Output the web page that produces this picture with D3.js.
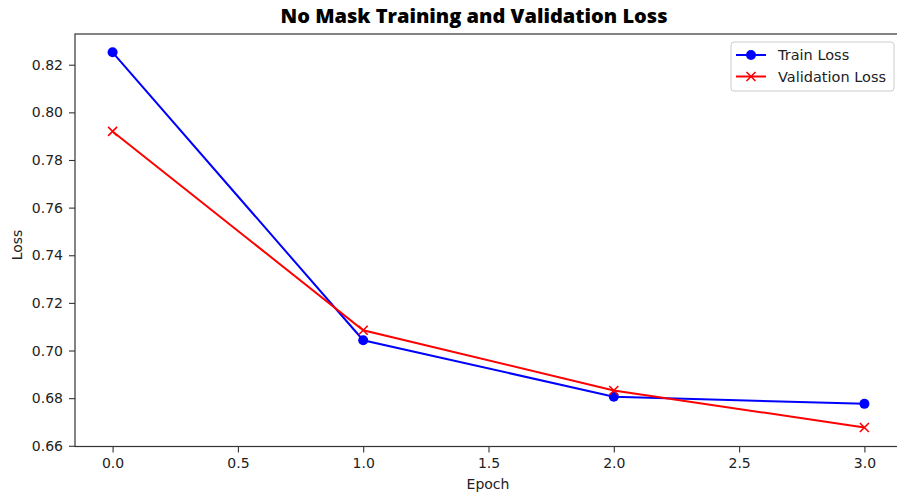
<!DOCTYPE html>
<html>
<head>
<meta charset="utf-8">
<script src="https://cdn.jsdelivr.net/npm/d3@7"></script>
<style>
  html, body { margin: 0; padding: 0; background: #fff; }
  svg { display: block; }
  .tick text { font-family: "DejaVu Sans", sans-serif; font-size: 14px; fill: #222; }
</style>
</head>
<body>
<svg id="chart" width="897" height="494"></svg>
<script>
// Loss per epoch
const epochs = [0, 1, 2, 3];
const trainLoss = [0.8252, 0.7043, 0.6806, 0.6776];
const valLoss = [0.7920, 0.7085, 0.6832, 0.6677];
const xTicks = [0.0, 0.5, 1.0, 1.5, 2.0, 2.5, 3.0];
const yTicks = [0.66, 0.68, 0.70, 0.72, 0.74, 0.76, 0.78, 0.80, 0.82];

const svg = d3.select("#chart");
const plot = { left: 75, right: 902, top: 34, bottom: 446.5 };

const x = d3.scaleLinear().domain([-0.15, 3.15]).range([plot.left, plot.right]);
const y = d3.scaleLinear().domain([0.6597, 0.8329]).range([plot.bottom, plot.top]);

// Frame
svg.append("rect")
  .attr("x", plot.left).attr("y", plot.top)
  .attr("width", plot.right - plot.left).attr("height", plot.bottom - plot.top)
  .attr("fill", "none").attr("stroke", "#333").attr("stroke-width", 1.2);

// Axes
const xAxis = svg.append("g")
  .attr("transform", `translate(0,${plot.bottom})`)
  .call(d3.axisBottom(x).tickValues(xTicks).tickFormat(d3.format(".1f")).tickSizeOuter(0).tickSize(6).tickPadding(6));
const yAxis = svg.append("g")
  .attr("transform", `translate(${plot.left},0)`)
  .call(d3.axisLeft(y).tickValues(yTicks).tickFormat(d3.format(".2f")).tickSizeOuter(0).tickSize(6).tickPadding(6));
[xAxis, yAxis].forEach(g => {
  g.select(".domain").remove();
  g.selectAll(".tick line").attr("stroke", "#333").attr("stroke-width", 1.1);
});

// Lines
const line = d3.line().x((d, i) => x(epochs[i])).y(d => y(d));
svg.append("path").datum(trainLoss)
  .attr("d", line).attr("fill", "none").attr("stroke", "#0000ff").attr("stroke-width", 2);
svg.append("path").datum(valLoss)
  .attr("d", line).attr("fill", "none").attr("stroke", "#ff0000").attr("stroke-width", 2);

// Markers
svg.selectAll(".train-pt").data(trainLoss).join("circle")
  .attr("class", "train-pt")
  .attr("cx", (d, i) => x(epochs[i])).attr("cy", d => y(d))
  .attr("r", 5).attr("fill", "#0000ff");

const crossPath = s => `M${-s},${-s}L${s},${s}M${-s},${s}L${s},${-s}`;
svg.selectAll(".val-pt").data(valLoss).join("path")
  .attr("class", "val-pt")
  .attr("transform", (d, i) => `translate(${x(epochs[i])},${y(d)})`)
  .attr("d", crossPath(4.5))
  .attr("stroke", "#ff0000").attr("stroke-width", 1.6).attr("fill", "none");

// Title and axis labels
svg.append("text")
  .attr("x", 474).attr("y", 23)
  .attr("text-anchor", "middle")
  .attr("font-family", "'Open Sans', sans-serif")
  .attr("font-weight", 800).attr("font-size", 20).attr("fill", "#000")
  .attr("textLength", 387).attr("lengthAdjust", "spacingAndGlyphs")
  .text("No Mask Training and Validation Loss");

svg.append("text")
  .attr("x", 488).attr("y", 489)
  .attr("text-anchor", "middle")
  .attr("font-family", "DejaVu Sans, sans-serif").attr("font-size", 14).attr("fill", "#222")
  .text("Epoch");

svg.append("text")
  .attr("transform", "translate(22,245) rotate(-90)")
  .attr("text-anchor", "middle")
  .attr("font-family", "DejaVu Sans, sans-serif").attr("font-size", 14).attr("fill", "#222")
  .text("Loss");

// Legend
const legend = svg.append("g").attr("transform", "translate(731,42)");
legend.append("rect")
  .attr("width", 163).attr("height", 49).attr("rx", 3)
  .attr("fill", "#fff").attr("fill-opacity", 0.8)
  .attr("stroke", "#ccc").attr("stroke-width", 1);
const items = [
  { name: "Train Loss", color: "#0000ff", marker: "circle" },
  { name: "Validation Loss", color: "#ff0000", marker: "cross" }
];
items.forEach((it, i) => {
  const g = legend.append("g").attr("transform", `translate(0,${13 + i * 21.5})`);
  g.append("line").attr("x1", 5).attr("x2", 35).attr("stroke", it.color).attr("stroke-width", 2);
  if (it.marker === "circle") {
    g.append("circle").attr("cx", 20).attr("r", 5).attr("fill", it.color);
  } else {
    g.append("path").attr("transform", "translate(20,0)").attr("d", crossPath(4.5))
      .attr("stroke", it.color).attr("stroke-width", 1.6).attr("fill", "none");
  }
  g.append("text").attr("x", 47).attr("y", 5)
    .attr("font-family", "DejaVu Sans, sans-serif").attr("font-size", 14.5).attr("fill", "#222")
    .text(it.name);
});
</script>
</body>
</html>
